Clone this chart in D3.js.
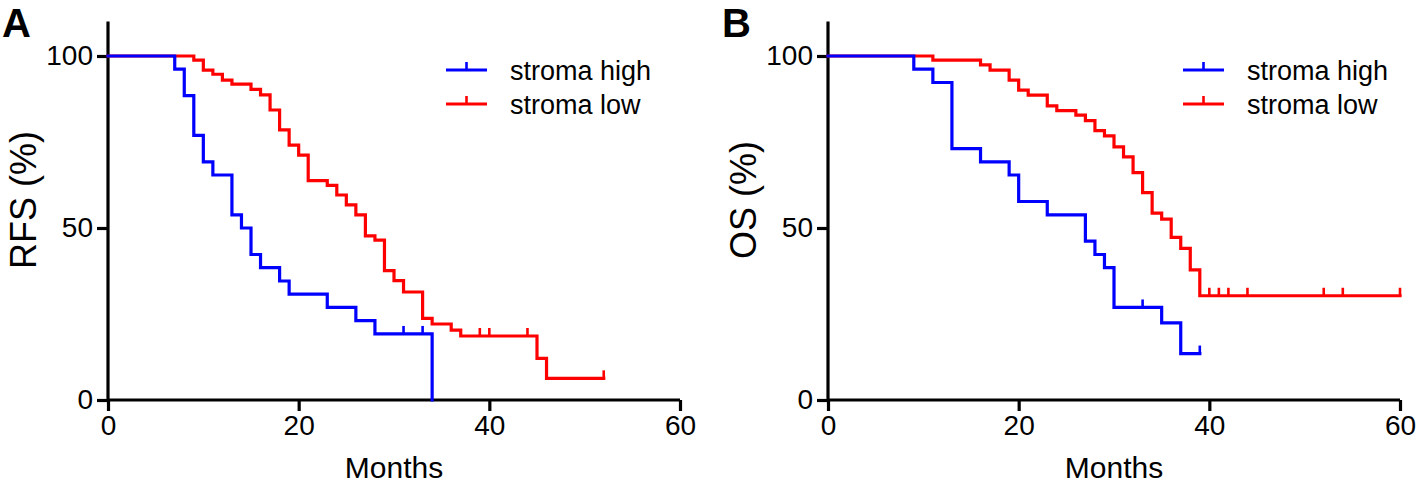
<!DOCTYPE html>
<html><head><meta charset="utf-8">
<script src="https://cdn.jsdelivr.net/npm/d3@7"></script>
<style>body{margin:0;background:#fff;} svg{display:block;} text{font-family:"Liberation Sans",Arial,sans-serif;}</style>
</head><body>
<script>
// ---------- Data ----------
const xTicks = [0, 20, 40, 60];
const yTicks = [0, 50, 100];
const seriesNames = ["stroma high", "stroma low"];

// Panel A: RFS
const rfsHighT = [0,7,8,9,10,11,13,14,15,16,18,19,23,26,28,34];
const rfsHighS = [100,96.2,88.5,76.9,69.2,65.4,53.8,50,42.3,38.5,34.6,30.8,26.9,23.1,19.2,0];
const rfsHighCens = [31,33];
const rfsHighEnd = 34;

const rfsLowT = [0,9,10,11,12,13,15,16,17,18,19,20,21,23,24,25,26,27,28,29,30,31,33,34,36,37,45,46];
const rfsLowS = [100,98.8,95.9,94.7,93.0,91.8,90.3,88.7,84.3,78.5,74.1,71.2,63.8,62.4,59.6,56.7,53.8,47.7,46.5,37.6,34.7,31.4,23.7,22.1,20.3,18.6,12.1,6.3];
const rfsLowCens = [39,40,44,52];
const rfsLowEnd = 52;

// Panel B: OS
const osHighT = [0,9,11,13,16,19,20,23,27,28,29,30,35,37];
const osHighS = [100,96.2,92.3,73.1,69.2,65.4,57.7,53.8,46.2,42.3,38.5,26.9,22.4,13.5];
const osHighCens = [33,39];
const osHighEnd = 39;

const osLowT = [0,11,16,17,19,20,21,23,24,26,27,28,29,30,31,32,33,34,35,36,37,38,39];
const osLowS = [100,98.8,97.4,95.9,93.0,90.1,88.6,85.5,84.1,82.8,81.2,78.3,76.8,73.6,70.7,66.1,60.3,54.3,52.6,47.3,44.1,37.8,30.3];
const osLowCens = [40,41,42,44,52,54,60];
const osLowEnd = 60;

// ---------- Drawing ----------
const W = 1416, H = 489;
const svg = d3.select("body").append("svg").attr("width", W).attr("height", H);
const colors = {"stroma high": "#0000ff", "stroma low": "#ff0000"};

function survAt(T, S, t) {
  let s = S[0];
  for (let i = 0; i < T.length; i++) if (T[i] <= t) s = S[i];
  return s;
}

function panel(opts) {
  const x = d3.scaleLinear().domain([0, 60]).range(opts.xr);
  const y = d3.scaleLinear().domain([0, 100]).range([400, 56]);
  const g = svg.append("g");

  // axes
  const yAx = g.append("g").attr("transform", `translate(${opts.xr[0]},0)`)
    .call(d3.axisLeft(y).tickValues(yTicks).tickSize(11).tickPadding(4).tickFormat(d3.format("d")));
  yAx.select(".domain").attr("d", `M0,${y(110)}V${y(0)}`);
  const xAx = g.append("g").attr("transform", `translate(0,400)`)
    .call(d3.axisBottom(x).tickValues(xTicks).tickSize(11).tickPadding(4).tickFormat(d3.format("d")));
  xAx.select(".domain").attr("d", `M${x(0)},0H${x(60)}`);
  g.selectAll(".domain").attr("stroke", "#000").attr("stroke-width", 3.2);
  g.selectAll(".tick line").attr("stroke", "#000").attr("stroke-width", 3.2);
  g.selectAll(".tick text").attr("font-size", 28).attr("fill", "#000")
    .attr("font-family", '"Liberation Sans",Arial,sans-serif');

  // labels
  g.append("text").attr("x", (x(0) + x(60)) / 2).attr("y", 478)
    .attr("text-anchor", "middle").attr("font-size", 30).text("Months");
  g.append("text").attr("transform", `translate(${opts.xr[0] - 72},200) rotate(-90)`)
    .attr("text-anchor", "middle").attr("font-size", 36).text(opts.ylabel);
  g.append("text").attr("x", opts.xr[0] - 106).attr("y", 37)
    .attr("font-size", 40).attr("font-weight", "bold").text(opts.letter);

  const line = d3.line().x(d => x(d[0])).y(d => y(d[1])).curve(d3.curveStepAfter);

  // red first, blue on top
  [1, 0].forEach(k => {
    const s = opts.series[k];
    const pts = s.T.map((t, i) => [t, s.S[i]]);
    const last = s.S[s.S.length - 1];
    if (s.T[s.T.length - 1] < s.end) pts.push([s.end, last]);
    const col = colors[seriesNames[k]];
    g.append("path").datum(pts).attr("d", line).attr("fill", "none")
      .attr("stroke", col).attr("stroke-width", 3.2).attr("stroke-linejoin", "miter").attr("stroke-linecap", "square");
    g.selectAll(null).data(s.cens).enter().append("line")
      .attr("x1", d => x(d)).attr("x2", d => x(d))
      .attr("y1", d => y(survAt(s.T, s.S, d))).attr("y2", d => y(survAt(s.T, s.S, d)) - 8)
      .attr("stroke", col).attr("stroke-width", 2.6);
  });

  // legend
  seriesNames.forEach((name, k) => {
    const ly = opts.legY + k * 34;
    const col = colors[name];
    g.append("line").attr("x1", opts.legX).attr("x2", opts.legX + 41).attr("y1", ly).attr("y2", ly)
      .attr("stroke", col).attr("stroke-width", 3.2);
    g.append("line").attr("x1", opts.legX + 20.5).attr("x2", opts.legX + 20.5).attr("y1", ly).attr("y2", ly - 8)
      .attr("stroke", col).attr("stroke-width", 2.6);
    g.append("text").attr("x", opts.legX + 64).attr("y", ly + 10).attr("font-size", 27).text(name);
  });
}

panel({xr: [108, 680], ylabel: "RFS (%)", letter: "A", legX: 446, legY: 70,
  series: [
    {T: rfsHighT, S: rfsHighS, cens: rfsHighCens, end: rfsHighEnd},
    {T: rfsLowT, S: rfsLowS, cens: rfsLowCens, end: rfsLowEnd}
  ]});
panel({xr: [828, 1400], ylabel: "OS (%)", letter: "B", legX: 1183, legY: 70,
  series: [
    {T: osHighT, S: osHighS, cens: osHighCens, end: osHighEnd},
    {T: osLowT, S: osLowS, cens: osLowCens, end: osLowEnd}
  ]});
</script>
</body></html>
